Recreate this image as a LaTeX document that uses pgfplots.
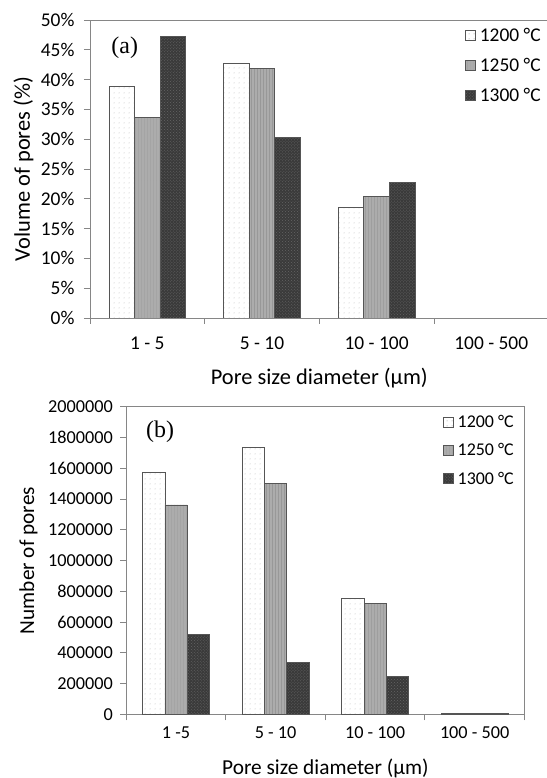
\documentclass[border=0pt]{standalone}
\usepackage{fontspec}
\setmainfont{Carlito}
\newfontfamily\seriffont{Liberation Serif}
\usepackage{pgfplots}
\pgfplotsset{compat=1.18}
\usetikzlibrary{patterns}

\definecolor{axisgray}{RGB}{134,134,134}
\definecolor{edgegray}{RGB}{85,85,85}
\definecolor{dotgray}{RGB}{175,175,175}
\definecolor{midgray}{RGB}{172,172,172}
\definecolor{midline}{RGB}{152,152,152}
\definecolor{darkfill}{RGB}{58,58,58}
\definecolor{darkdots}{RGB}{100,100,100}

% sparse dot texture for the 1200 °C bars
\pgfdeclarepatternformonly{sparsedots}{\pgfpointorigin}{\pgfpoint{4.5bp}{4.5bp}}{\pgfpoint{4.5bp}{4.5bp}}{%
  \pgfpathcircle{\pgfpoint{1.2bp}{1.2bp}}{0.55bp}\pgfusepath{fill}}

\pgfplotsset{
  poreaxis/.style={
    scale only axis,
    axis line style={axisgray, line width=0.9bp},
    every tick/.style={axisgray, line width=0.9bp},
    tick align=outside,
    major tick length=6bp,
    xtick pos=left, ytick pos=left,
    xmin=-0.5, xmax=3.5,
    xtick={-0.5,0.5,1.5,2.5,3.5},
    xticklabels={},
    extra x ticks={0,1,2,3},
    extra x tick style={tick style={draw=none}},
    ybar=0pt,
    ymin=0,
    /pgf/number format/assume math mode=true,
    legend cell align=left,
    legend image code/.code={\draw[#1] (0bp,-5bp) rectangle (10bp,5bp);},
    legend style={draw=none, fill=none, anchor=north west, inner sep=0pt,
      nodes={inner sep=1bp},
      /tikz/every odd column/.append style={column sep=3bp}},
  },
  s1200/.style={draw=edgegray, line width=0.7bp, fill=white,
    postaction={pattern=sparsedots, pattern color=dotgray}},
  s1250/.style={draw=edgegray, line width=0.7bp, fill=midgray,
    postaction={pattern=vertical lines, pattern color=midline}},
  s1300/.style={draw=edgegray, line width=0.7bp, fill=darkfill,
    postaction={pattern=crosshatch dots, pattern color=darkdots}},
}

\begin{document}
\begin{tikzpicture}
\useasboundingbox (0,0) rectangle (547bp,778bp);

% (a) volume fraction of pores per size class
\begin{axis}[poreaxis,
  at={(90bp,460bp)}, anchor=south west,
  width=458.6bp, height=298bp,
  bar width=25.6bp,
  ymax=50, ytick={0,5,...,50},
  yticklabel={\pgfmathprintnumber{\tick}\%},
  tick label style={font=\fontsize{19.5}{22}\selectfont},
  yticklabel style={xshift=-6bp},
  xticklabel style={yshift=-9bp},
  extra x tick labels={1 - 5,5 - 10,10 - 100,100 - 500},
  xlabel={Pore size diameter (µm)},
  ylabel={Volume of pores (\%)},
  label style={font=\fontsize{22.5}{26}\selectfont},
  xlabel style={at={(axis description cs:0.5,-0.201)}, anchor=center},
  ylabel style={at={(axis description cs:-0.145,0.5)}, anchor=center},
  legend style={at={(rel axis cs:0.8177,0.9765)},
    font=\fontsize{19.5}{22}\selectfont, row sep=13bp},
]
\addplot[s1200] coordinates {(0,38.9) (1,42.8) (2,18.5)};
\addplot[s1250] coordinates {(0,33.7) (1,41.9) (2,20.4)};
\addplot[s1300] coordinates {(0,47.3) (1,30.3) (2,22.7)};
\legend{1200 °C,1250 °C,1300 °C}
\node[font=\seriffont\fontsize{24}{28}\selectfont] at (axis cs:-0.197,45.3) {(a)};
\end{axis}

% (b) number of pores per size class
\begin{axis}[poreaxis,
  at={(126.3bp,63.7bp)}, anchor=south west,
  width=398.1bp, height=307.6bp,
  bar width=22.2bp,
  ymax=2000000, ytick={0,200000,...,2000000},
  scaled y ticks=false,
  yticklabel style={/pgf/number format/fixed, /pgf/number format/1000 sep={}, xshift=-4bp},
  tick label style={font=\fontsize{18.3}{21}\selectfont},
  xticklabel style={yshift=-3bp},
  extra x tick labels={1 -5,5 - 10,10 - 100,100 - 500},
  xlabel={Pore size diameter (µm)},
  ylabel={Number of pores},
  label style={font=\fontsize{21.4}{25}\selectfont},
  xlabel style={at={(axis description cs:0.5,-0.175)}, anchor=center},
  ylabel style={at={(axis description cs:-0.246,0.5)}, anchor=center},
  legend style={at={(rel axis cs:0.795,0.976)},
    font=\fontsize{18}{21}\selectfont, row sep=12.5bp},
]
\addplot[s1200] coordinates {(0,1573000) (1,1733000) (2,752000) (3,5000)};
\addplot[s1250] coordinates {(0,1361000) (1,1499000) (2,722000) (3,4000)};
\addplot[s1300] coordinates {(0,522000) (1,336000) (2,249000) (3,3000)};
\legend{1200 °C,1250 °C,1300 °C}
\node[font=\seriffont\fontsize{24}{28}\selectfont] at (axis cs:-0.161,1835600) {(b)};
\end{axis}
\end{tikzpicture}
\end{document}
